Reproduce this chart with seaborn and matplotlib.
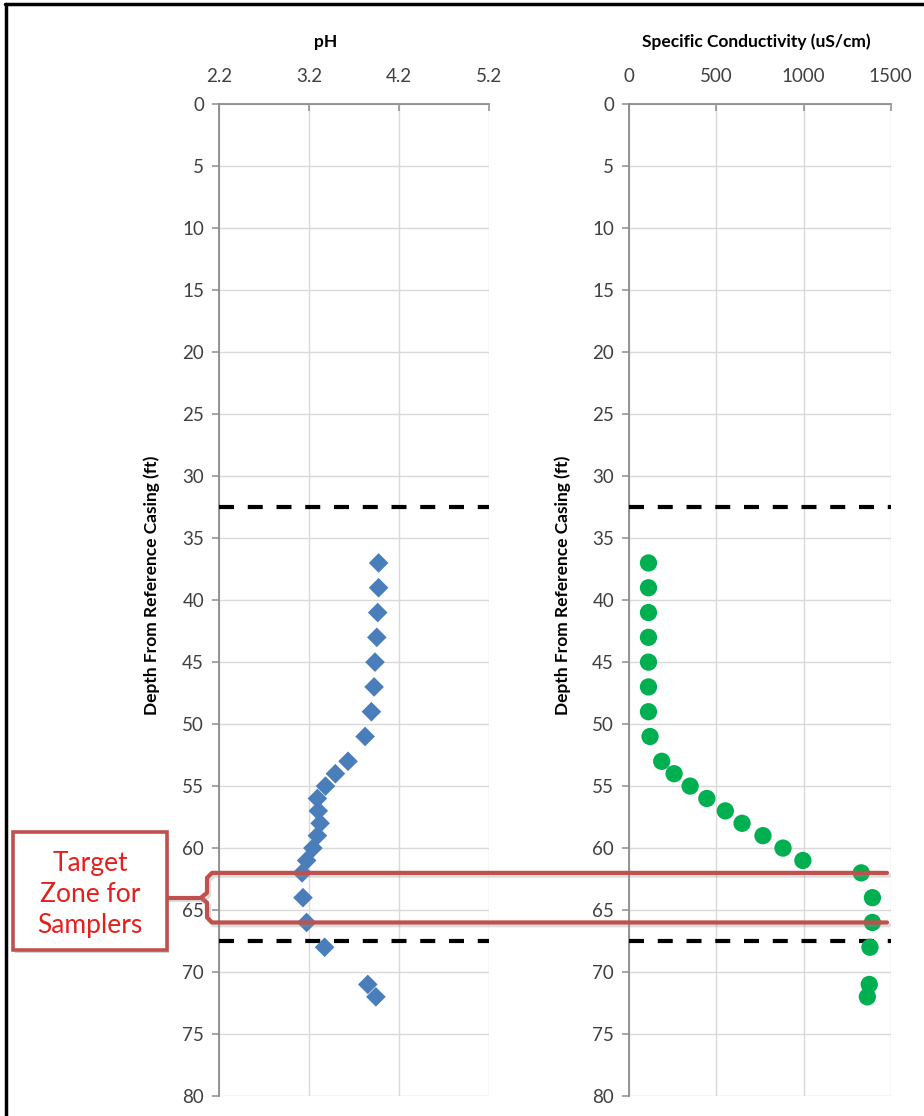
import numpy as np
import pandas as pd
import seaborn as sns
import matplotlib
matplotlib.use("Agg")
import matplotlib.pyplot as plt
import matplotlib.patheffects as pe
from matplotlib.lines import Line2D
from matplotlib.patches import Rectangle
from matplotlib.transforms import blended_transform_factory

# Field profile: depth below reference casing (ft)
depth_ft = [37, 39, 41, 43, 45, 47, 49, 51, 53, 54, 55, 56, 57, 58, 59, 60,
            61, 62, 64, 66, 68, 71, 72]
ph_values = [3.97, 3.97, 3.96, 3.95, 3.93, 3.92, 3.89, 3.82, 3.63, 3.49, 3.38,
             3.29, 3.30, 3.32, 3.29, 3.24, 3.17, 3.12, 3.13, 3.17, 3.37, 3.85,
             3.94]
sc_values = [110, 110, 110, 110, 110, 110, 110, 119, 186, 257, 349, 445, 551,
             647, 767, 882, 996, 1331, 1395, 1395, 1381, 1377, 1366]

ph_ticks = [2.2, 3.2, 4.2, 5.2]
sc_ticks = [0, 500, 1000, 1500]
depth_ticks = list(range(0, 81, 5))

screen_depths = [32.5, 67.5]      # dashed reference depths
target_zone = [62, 66]            # sampler target interval

df = pd.DataFrame({"depth": depth_ft, "ph": ph_values, "sc": sc_values})

sns.set_theme(style="white")
plt.rcParams["font.family"] = ["Lato", "DejaVu Sans"]

W, H = 924, 1116
fig = plt.figure(figsize=(W / 100, H / 100), dpi=100)

def fx(px):
    return px / W

def fy(py):
    return 1 - py / H

ax_top, ax_bot = 104.3, 1096
ax1 = fig.add_axes([fx(219.3), fy(ax_bot), fx(489.3) - fx(219.3), fy(ax_top) - fy(ax_bot)])
ax2 = fig.add_axes([fx(629.3), fy(ax_bot), fx(890.7) - fx(629.3), fy(ax_top) - fy(ax_bot)])

sns.scatterplot(data=df, x="ph", y="depth", ax=ax1, marker="D", s=100,
                color="#4a7ebb", edgecolor="none", zorder=4, legend=False)
sns.scatterplot(data=df, x="sc", y="depth", ax=ax2, marker="o", s=155,
                color="#00b050", edgecolor="none", zorder=4, legend=False)

tick_color = "#404040"
axis_color = "#8c8c8c"
grid_color = "#d9d9d9"

for ax, xt, xlim in [(ax1, ph_ticks, (2.2, 5.2)), (ax2, sc_ticks, (0, 1500))]:
    ax.set_xlim(*xlim)
    ax.set_ylim(80, 0)
    ax.set_xticks(xt)
    ax.set_xticklabels([str(t) for t in xt])
    ax.set_yticks(depth_ticks)
    ax.set_yticklabels([str(t) for t in depth_ticks])
    ax.xaxis.tick_top()
    ax.set_xlabel("")
    ax.set_ylabel("")
    for s in ["right", "bottom"]:
        ax.spines[s].set_visible(False)
    for s in ["left", "top"]:
        ax.spines[s].set_color(axis_color)
        ax.spines[s].set_linewidth(1.3)
    ax.grid(True, color=grid_color, linewidth=1.0, zorder=0)
    ax.set_axisbelow(True)
    ax.tick_params(axis="y", direction="out", length=5, width=1.1,
                   color=axis_color, pad=6, labelsize=13.5, labelcolor=tick_color,
                   left=True)
    ax.tick_params(axis="x", direction="in", length=5, width=1.1,
                   color=axis_color, pad=14, labelsize=13.5, labelcolor=tick_color,
                   top=True, bottom=False)
    for d in screen_depths:
        ax.axhline(d, color="black", linewidth=3, dashes=(3.6, 3.3), zorder=3)

# Panel titles and depth labels
fig.text(fx(326), fy(42), "pH", ha="center", va="center", fontsize=12.5,
         fontweight="bold", color="black")
fig.text(fx(756), fy(42), "Specific Conductivity (uS/cm)", ha="center",
         va="center", fontsize=12.5, fontweight="bold", color="black")
for x in (152, 563):
    fig.text(fx(x), fy(585), "Depth From Reference Casing (ft)", rotation=90,
             ha="center", va="center", fontsize=12.5, fontweight="bold",
             color="black")

# Target-zone bracket running across both panels
red = "#c0504d"
shadow = [pe.SimpleLineShadow(offset=(1.5, -2), shadow_color="#909090", alpha=0.3),
          pe.Normal()]
tr = blended_transform_factory(fig.transFigure, ax1.transData)
top_d, bot_d = target_zone
mid_d = (top_d + bot_d) / 2
bx = [887, 212, 207, 207, 201, 207, 207, 212, 887]
by = [top_d, top_d, top_d + 0.4, mid_d - 0.4, mid_d, mid_d + 0.4,
      bot_d - 0.4, bot_d, bot_d]
fig.add_artist(Line2D([fx(v) for v in bx], by, transform=tr, color=red,
                      linewidth=3, solid_joinstyle="round", zorder=6,
                      path_effects=shadow))
fig.add_artist(Line2D([fx(167), fx(201)], [mid_d, mid_d], transform=tr,
                      color=red, linewidth=3, zorder=6, path_effects=shadow))

# Annotation box
box = Rectangle((fx(12.7), fy(950)), fx(166.7) - fx(12.7), fy(832) - fy(950),
                transform=fig.transFigure, fill=True, facecolor="white",
                edgecolor=red, linewidth=2.6, zorder=6,
                path_effects=[pe.SimplePatchShadow(offset=(2, -2), alpha=0.25),
                              pe.Normal()])
fig.add_artist(box)
fig.text(fx(90), fy(894), "Target\nZone for\nSamplers", ha="center",
         va="center", fontsize=19, color="#e3211c", linespacing=1.3, zorder=7)

# Frame edges
fig.add_artist(Line2D([fx(5), 1], [fy(4), fy(4)], color="black", linewidth=2.5))
fig.add_artist(Line2D([fx(6), fx(6)], [fy(4), 0], color="black", linewidth=2.5))

fig.savefig("out.png", dpi=100)
